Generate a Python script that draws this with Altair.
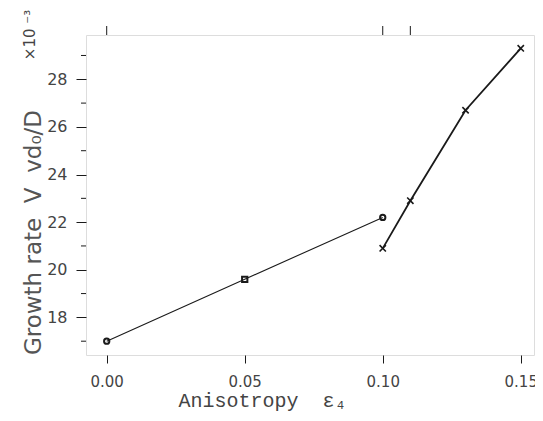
import altair as alt
import pandas as pd

# Data
s1_x = [0.00, 0.05, 0.10]
s1_y = [17.0, 19.6, 22.2]
s1_shape = ["circle", "square", "circle"]
s2_x = [0.10, 0.11, 0.13, 0.15]
s2_y = [20.9, 22.9, 26.7, 29.3]
y_major = [18, 20, 22, 24, 26, 28]
y_minor = [17, 19, 21, 23, 25, 27, 29]
x_ticks = [0.00, 0.05, 0.10, 0.15]
top_ticks = [0.00, 0.10, 0.11]

df1 = pd.DataFrame({"x": s1_x, "y": s1_y, "m": s1_shape})
df2 = pd.DataFrame({"x": s2_x, "y": s2_y})
dfmin = pd.DataFrame({"v": y_minor})
dftop = pd.DataFrame({"v": top_ticks})

xs = alt.Scale(domain=[-0.0075, 0.1548], nice=False, zero=False)
ys = alt.Scale(domain=[16.42, 29.86], nice=False, zero=False)

INK = "#1a1a1a"
TXT = "#444444"
NB = "\u00a0"

x_axis = alt.Axis(
    values=x_ticks, format=".2f", tickSize=8, tickColor=INK, domain=False, grid=False,
    labelFont="DejaVu Sans", labelFontSize=15, labelColor=TXT, labelPadding=11,
    title="Anisotropy" + NB * 2 + "ε₄", titleFont="Liberation Mono", titleFontSize=20,
    titleFontWeight="normal", titleColor=TXT,
    titleX=176, titleY=51, titleAlign="center", titleBaseline="alphabetic",
)
y_axis = alt.Axis(
    values=y_major, tickSize=10, tickColor=INK, domain=False, grid=False,
    labelFont="DejaVu Sans", labelFontSize=16, labelColor=TXT, labelPadding=9,
    title="Growth rate" + NB * 2 + "V" + NB * 2 + "vd₀/D", titleFont="DejaVu Sans",
    titleFontSize=23, titleFontWeight="normal", titleColor="#555555", titleAngle=270,
    titleX=-53, titleY=197, titleAlign="center", titleBaseline="middle",
)

line1 = alt.Chart(df1).mark_line(color=INK, strokeWidth=1.1).encode(
    x=alt.X("x:Q", scale=xs, axis=x_axis),
    y=alt.Y("y:Q", scale=ys, axis=y_axis),
)
pts1 = alt.Chart(df1).mark_point(filled=False, color=INK, size=28, strokeWidth=2, opacity=1).encode(
    x=alt.X("x:Q", scale=xs),
    y=alt.Y("y:Q", scale=ys),
    shape=alt.Shape("m:N", scale=None),
)
line2 = alt.Chart(df2).mark_line(color=INK, strokeWidth=1.8).encode(
    x=alt.X("x:Q", scale=xs),
    y=alt.Y("y:Q", scale=ys),
)
pts2 = alt.Chart(df2).mark_point(
    shape="M-1,-1L1,1M-1,1L1,-1", filled=False, color=INK, strokeWidth=1.6, size=40, opacity=1
).encode(
    x=alt.X("x:Q", scale=xs),
    y=alt.Y("y:Q", scale=ys),
)
minor = alt.Chart(dfmin).mark_rule(color=INK, strokeWidth=1).encode(
    x=alt.value(-5), x2=alt.value(0),
    y=alt.Y("v:Q", scale=ys),
)
top = alt.Chart(dftop).mark_rule(color=INK, strokeWidth=1).encode(
    x=alt.X("v:Q", scale=xs),
    y=alt.value(-9), y2=alt.value(0),
)
exp_label = alt.Chart(pd.DataFrame({"t": ["×10" + NB + "⁻³"]})).mark_text(
    angle=270, font="DejaVu Sans", fontSize=15, color=TXT, align="center", baseline="middle"
).encode(
    text="t:N", x=alt.value(-56), y=alt.value(0),
)

chart = alt.layer(line1, line2, pts1, pts2, minor, top, exp_label).properties(
    width=448, height=320,
    autosize=alt.AutoSizeParams(type="none"),
    padding={"left": 78, "top": 27, "right": 1, "bottom": 57},
).configure_view(stroke=INK, strokeWidth=1.5).configure(background="white")

chart.save("out.html", embed_options={"renderer": "svg", "actions": False})
